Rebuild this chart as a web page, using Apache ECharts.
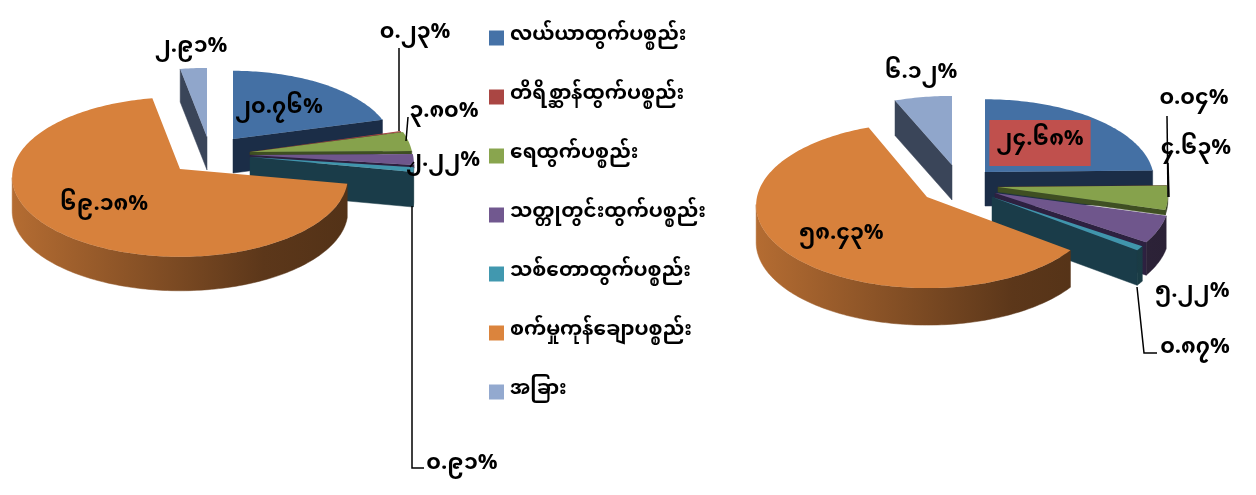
<!DOCTYPE html>
<html>
<head>
<meta charset="utf-8">
<style>html,body{margin:0;padding:0;background:#fff}#c{width:1256px;height:495px}</style>
<script src="https://cdn.jsdelivr.net/npm/echarts@6/dist/echarts.min.js"></script>
</head>
<body>
<div id="c"></div>
<script>
const categories = ['လယ်ယာထွက်ပစ္စည်း','တိရိစ္ဆာန်ထွက်ပစ္စည်း','ရေထွက်ပစ္စည်း','သတ္တုတွင်းထွက်ပစ္စည်း','သစ်တောထွက်ပစ္စည်း','စက်မှုကုန်ချောပစ္စည်း','အခြား'];
const valuesLeft = [20.76, 0.23, 3.80, 2.22, 0.91, 69.18, 2.91];
const valuesRight = [24.68, 0.04, 4.63, 5.22, 0.87, 58.43, 6.12];
const colors = ['#4572A7','#AA4643','#89A54E','#71588F','#4198AF','#DB843D','#93A9CF'];
const cutColors = ['#1b2d47','#4b1f1e','#3f4f22','#2d2140','#1a3c49','#5a3415','#3a4559'];

const FONT = '"Noto Sans Myanmar","Padauk","Noto Sans","Noto Sans CJK SC","DejaVu Sans",sans-serif';
const PERSP = 0.1;
// geometry of each exploded slice: apex x, apex y, radius x, radius y, extrusion depth
const geomLeft = [[233,139,159,75,34],[250,152,160,82,3],[250,152,162,82,3],[250,155,163,79,3],[250,157,163,81,35],[180,169,167,79,34],[207,137,162,76,33]];
const geomRight = [[985,172,168,80,34],[998,187,169,80,3],[998,187,169,83,5],[995,193,173,82,33],[992,197,172,82,35],[927,197,170,82,37],[952,165,166,76,35]];
const charts = [{values: valuesLeft, geom: geomLeft}, {values: valuesRight, geom: geomRight}];
// label centres and leader lines
const labelPos = [
  [[279,111],[415,36],[444,115],[443,164],[462,467],[104,208],[191,50]],
  [[1040,143],[1194,102],[1196,152],[1192,295],[1195,351],[841,237],[921,76]]
];
const leaders = [
  [[[399,48],[399,131]],[[408,117],[406,141]],[[414,162],[410,167]],[[412,206],[412,468],[424,468]]],
  [[[1167,116],[1168,197]],[[1168,163],[1169,197]],[[1137,287],[1144,353],[1157,353]]]
];
const MY = '၀၁၂၃၄၅၆၇၈၉';
const toMy = v => v.toFixed(2).replace(/\d/g, d => MY[+d]) + '%';

function mix(hex, k){
  const n = parseInt(hex.slice(1),16);
  return 'rgb(' + [n>>16,(n>>8)&255,n&255].map(c => Math.round(c*k)).join(',') + ')';
}
function sliceItem(catIdx){
  return function(params){
    const ch = charts[params.dataIndex];
    const total = ch.values.reduce((a,b)=>a+b,0);
    const before = ch.values.slice(0,catIdx).reduce((a,b)=>a+b,0);
    const a0 = before/total*2*Math.PI, a1 = (before+ch.values[catIdx])/total*2*Math.PI;
    const [cx,cy,rx,ry,depth] = ch.geom[catIdx];
    const pt = t => {
      const u = Math.sin(t), v = Math.cos(t), s = 1/(1+PERSP*v);
      return [cx+rx*u*s, cy-ry*v*s];
    };
    const n = Math.max(2, Math.ceil((a1-a0)/0.02));
    const arc = [];
    for(let i=0;i<=n;i++) arc.push(pt(a0+(a1-a0)*i/n));
    const down = p => [p[0],p[1]+depth];
    const kids = [];
    const quad = (pts,fill) => kids.push({type:'polygon',shape:{points:pts},style:{fill:fill,stroke:fill,lineWidth:0.5}});
    // cut faces
    if(arc[0][0] < cx) quad([[cx,cy],arc[0],down(arc[0]),down([cx,cy])], cutColors[catIdx]);
    if(cx < arc[n][0]) quad([arc[n],[cx,cy],down([cx,cy]),down(arc[n])], cutColors[catIdx]);
    // outer wall, visible where the rim runs leftwards
    const grad = {type:'linear',global:true,x:cx-rx,y:0,x2:cx+rx,y2:0,colorStops:[
      {offset:0,color:mix(colors[catIdx],0.82)},{offset:0.75,color:mix(colors[catIdx],0.42)},{offset:1,color:mix(colors[catIdx],0.38)}]};
    let run = [];
    const flush = () => { if(run.length>1) quad(run.concat(run.slice().reverse().map(down)), grad); run = []; };
    for(let i=0;i<n;i++){
      if(arc[i+1][0] < arc[i][0]){ if(!run.length) run.push(arc[i]); run.push(arc[i+1]); }
      else flush();
    }
    flush();
    // top face
    kids.push({type:'polygon',shape:{points:[[cx,cy]].concat(arc)},style:{fill:mix(colors[catIdx],0.98)}});
    return {type:'group',children:kids};
  };
}
function labelItem(params){
  const k = params.dataIndex, ch = charts[k], kids = [];
  leaders[k].forEach(l => kids.push({type:'polyline',shape:{points:l},style:{fill:'none',stroke:'#000',lineWidth:1.5}}));
  ch.values.forEach((v,i) => {
    const s = {text:toMy(v),x:labelPos[k][i][0],y:labelPos[k][i][1],align:'center',verticalAlign:'middle',
      font:'bold 22px '+FONT,fill:'#000'};
    if(k===1 && i===0){ s.backgroundColor='#C0504D'; s.padding=[18,7,6,7]; }
    kids.push({type:'text',style:s});
  });
  return {type:'group',children:kids};
}
const series = categories.map((name,i)=>({
  type:'custom',name:name,coordinateSystem:'none',silent:true,animation:false,
  z:[2,4,5,6,7,8,1][i],itemStyle:{color:colors[i]},
  data:[[valuesLeft[i]],[valuesRight[i]]],renderItem:sliceItem(i)
}));
series.push({type:'custom',name:'labels',coordinateSystem:'none',silent:true,animation:false,z:20,data:[[0],[1]],renderItem:labelItem});

const chart = echarts.init(document.getElementById('c'),null,{renderer:'canvas'});
chart.setOption({
  animation:false,
  backgroundColor:'#fff',
  legend:{data:categories,orient:'vertical',left:489,top:28,icon:'rect',itemWidth:15,itemHeight:15,itemGap:39,
    selectedMode:false,padding:0,
    textStyle:{fontFamily:FONT,fontSize:20,fontWeight:'bold',color:'#000',lineHeight:15,padding:[0,0,0,1]}},
  series:series
});
</script>
</body>
</html>
